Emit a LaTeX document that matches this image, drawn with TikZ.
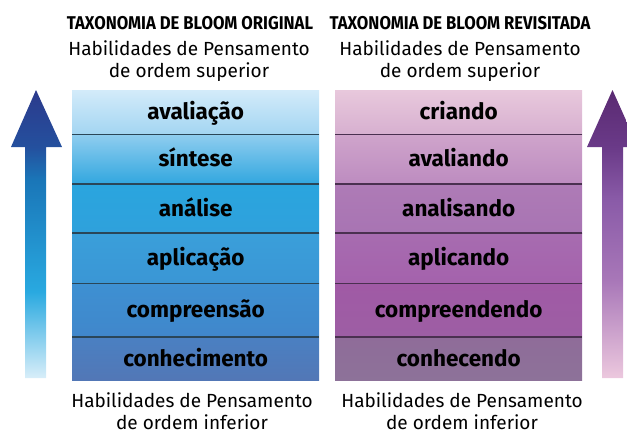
\documentclass[tikz,border=0pt]{standalone}
\usepackage{fontspec}
\setmainfont{Fira Sans}
\newfontfamily\titlefont[FakeStretch=0.9]{Fira Sans}
\usetikzlibrary{positioning}

\definecolor{lineblue}{HTML}{2A4658}
\definecolor{lineplum}{HTML}{4A3050}
\definecolor{arrowA}{HTML}{D8EEF9}
\definecolor{arrowB}{HTML}{29A9E0}
\definecolor{arrowC}{HTML}{1A76B8}
\definecolor{arrowD}{HTML}{24509E}
\definecolor{arrowE}{HTML}{2C3A8C}
\definecolor{plumA}{HTML}{ECC8DE}
\definecolor{plumB}{HTML}{A877B8}
\definecolor{plumC}{HTML}{8A5BA8}
\definecolor{plumD}{HTML}{6A3A88}
\definecolor{plumE}{HTML}{5A2A72}

\pgfdeclareverticalshading{bluearrow}{100bp}{color(0bp)=(arrowA); color(25bp)=(arrowA);
  color(40bp)=(arrowB); color(59.4bp)=(arrowC); color(65.1bp)=(arrowD);
  color(75bp)=(arrowE); color(100bp)=(arrowE)}
\pgfdeclareverticalshading{plumarrow}{100bp}{color(0bp)=(plumA); color(25bp)=(plumA);
  color(42bp)=(plumB); color(55.9bp)=(plumC); color(65.1bp)=(plumD);
  color(75bp)=(plumE); color(100bp)=(plumE)}

\begin{document}
\begin{tikzpicture}[
    x=1pt, y=-1pt,
    band/.style = {
      rectangle,
      inner sep = 0pt,
      minimum width = 247pt,
      text height = 15pt,
      text depth = 0pt,
      font = \bfseries\fontsize{22.5}{24}\selectfont
    },
    bluediv/.style = {draw = lineblue, line width = 1.5pt},
    plumdiv/.style = {draw = lineplum, line width = 1.5pt},
    caption/.style = {align = center, font = \fontsize{19}{21.5}\selectfont},
    heading/.style = {font = \titlefont\bfseries\fontsize{18.5}{20}\selectfont}
  ]
  \useasboundingbox (0,0) rectangle (627,434);
  \clip (0,0) rectangle (627,434);
  % original
  \node[band, anchor = north west, minimum height = 44pt,
    top color = {rgb,255:red,211;green,235;blue,250},
    bottom color = {rgb,255:red,163;green,213;blue,242}] (o1) at (72,90) {avaliação};
  \node[band, below = 0pt of o1, minimum height = 49pt,
    top color = {rgb,255:red,143;green,205;blue,239},
    bottom color = {rgb,255:red,50;green,167;blue,223}] (o2) {síntese};
  \node[band, below = 0pt of o2, minimum height = 49pt,
    top color = {rgb,255:red,42;green,165;blue,222},
    bottom color = {rgb,255:red,47;green,161;blue,220}] (o3) {análise};
  \node[band, below = 0pt of o3, minimum height = 50pt,
    top color = {rgb,255:red,58;green,159;blue,218},
    bottom color = {rgb,255:red,58;green,150;blue,213}] (o4) {aplicação};
  \node[band, below = 0pt of o4, minimum height = 53pt,
    top color = {rgb,255:red,62;green,144;blue,210},
    bottom color = {rgb,255:red,64;green,135;blue,203}] (o5) {compreensão};
  \node[band, below = 0pt of o5, minimum height = 43pt,
    top color = {rgb,255:red,74;green,128;blue,194},
    bottom color = {rgb,255:red,82;green,119;blue,182}] (o6) {conhecimento};
  \draw[bluediv] (o1.south west) -- (o1.south east);
  \draw[bluediv] (o2.south west) -- (o2.south east);
  \draw[bluediv] (o3.south west) -- (o3.south east);
  \draw[bluediv] (o4.south west) -- (o4.south east);
  \draw[bluediv] (o5.south west) -- (o5.south east);
  % revisitada
  \node[band, anchor = north west, minimum height = 44pt,
    top color = {rgb,255:red,232;green,200;blue,220},
    bottom color = {rgb,255:red,215;green,176;blue,208}] (r1) at (335,90) {criando};
  \node[band, below = 0pt of r1, minimum height = 49pt,
    top color = {rgb,255:red,207;green,164;blue,203},
    bottom color = {rgb,255:red,189;green,140;blue,192}] (r2) {avaliando};
  \node[band, below = 0pt of r2, minimum height = 49pt,
    top color = {rgb,255:red,174;green,123;blue,182},
    bottom color = {rgb,255:red,168;green,116;blue,179}] (r3) {analisando};
  \node[band, below = 0pt of r3, minimum height = 50pt,
    top color = {rgb,255:red,167;green,108;blue,176},
    bottom color = {rgb,255:red,164;green,98;blue,172}] (r4) {aplicando};
  \node[band, below = 0pt of r4, minimum height = 53pt,
    top color = {rgb,255:red,160;green,90;blue,165},
    bottom color = {rgb,255:red,157;green,94;blue,164}] (r5) {compreendendo};
  \node[band, below = 0pt of r5, minimum height = 43pt,
    top color = {rgb,255:red,143;green,108;blue,153},
    bottom color = {rgb,255:red,141;green,114;blue,153}] (r6) {conhecendo};
  \draw[plumdiv] (r1.south west) -- (r1.south east);
  \draw[plumdiv] (r2.south west) -- (r2.south east);
  \draw[plumdiv] (r3.south west) -- (r3.south east);
  \draw[plumdiv] (r4.south west) -- (r4.south east);
  \draw[plumdiv] (r5.south west) -- (r5.south east);
  % titles
  \node[heading] (otitle) at (190,23) {TAXONOMIA DE BLOOM ORIGINAL};
  \node[heading] (rtitle) at (460,23) {TAXONOMIA DE BLOOM REVISITADA};
  \node[caption] (otop) at (189,61) {Habilidades de Pensamento\\de ordem superior};
  \node[caption] (rtop) at (460,61) {Habilidades de Pensamento\\de ordem superior};
  \node[caption] (obot) at (192,411) {Habilidades de Pensamento\\de ordem inferior};
  \node[caption] (rbot) at (462,411) {Habilidades de Pensamento\\de ordem inferior};
  % arrows
  \shade[shading = bluearrow] (25,378) -- (25,147) -- (11,147) -- (36,90)
    -- (62,147) -- (46,147) -- (46,378) -- cycle;
  \shade[shading = plumarrow] (602,378) -- (602,147) -- (587,147) -- (612.5,90)
    -- (638,147) -- (623,147) -- (623,378) -- cycle;
\end{tikzpicture}
\end{document}
